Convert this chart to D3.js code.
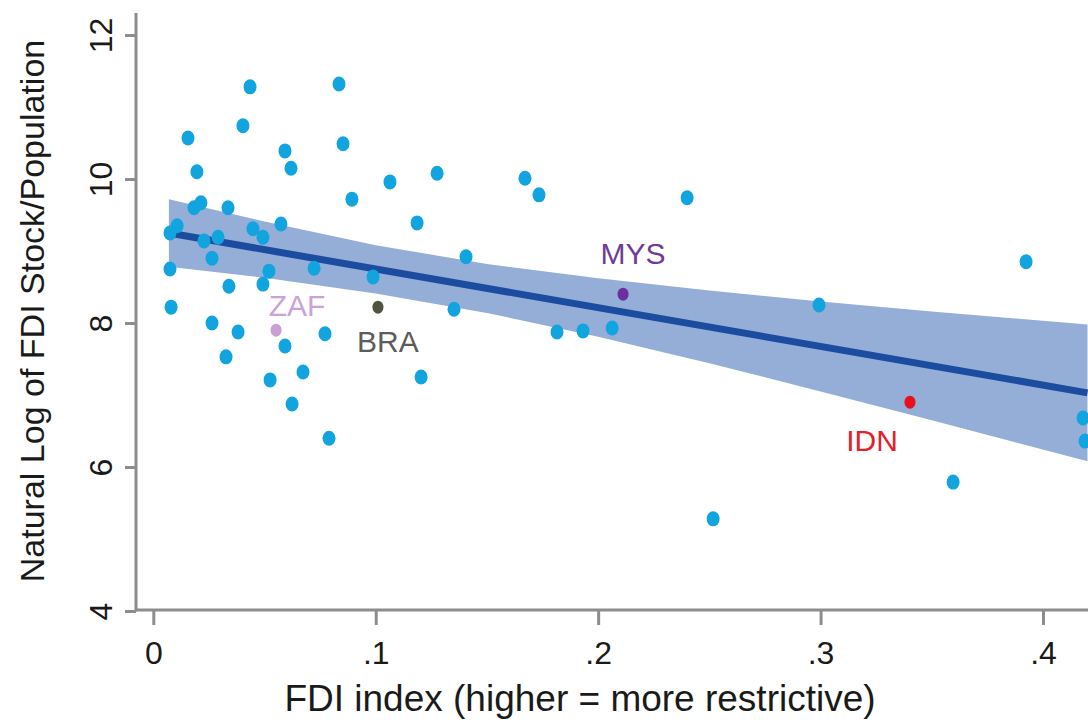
<!DOCTYPE html>
<html>
<head>
<meta charset="utf-8">
<script src="https://cdn.jsdelivr.net/npm/d3@7"></script>
<style>
  body { margin: 0; background: #fff; }
  svg { display: block; font-family: "Liberation Sans", Arial, sans-serif; }
</style>
</head>
<body>
<svg id="chart" width="1088" height="724"></svg>
<script>
// scatter: FDI index vs log FDI stock per head
var fdiIndex = [0.0435, 0.0835, 0.0156, 0.0403, 0.0592, 0.0853, 0.0619, 0.0196, 0.1064, 0.0893,
	0.0183, 0.0214, 0.0336, 0.0075, 0.0107, 0.0228, 0.0291, 0.0448, 0.0493, 0.0574,
	0.0264, 0.0075, 0.0340, 0.0493, 0.0520, 0.0723, 0.0988, 0.0080, 0.0264, 0.0381,
	0.0772, 0.0592, 0.0327, 0.0525, 0.0673, 0.0624, 0.0790, 0.1276, 0.1671, 0.1734,
	0.2400, 0.1186, 0.1406, 0.1352, 0.1815, 0.1932, 0.2063, 0.1204, 0.2517, 0.3924,
	0.2993, 0.4180, 0.4189, 0.3596];
var logFdiStock = [11.28, 11.32, 10.57, 10.74, 10.39, 10.49, 10.15, 10.10, 9.96, 9.72,
	9.60, 9.67, 9.60, 9.25, 9.35, 9.14, 9.19, 9.31, 9.19, 9.375,
	8.90, 8.75, 8.51, 8.54, 8.72, 8.76, 8.64, 8.22, 8.00, 7.875,
	7.85, 7.68, 7.53, 7.21, 7.32, 6.875, 6.40, 10.08, 10.01, 9.78,
	9.74, 9.39, 8.92, 8.19, 7.875, 7.89, 7.93, 7.25, 5.28, 8.85,
	8.25, 6.68, 6.36, 5.79];

// highlighted countries
var hlCodes = ['ZAF', 'BRA', 'MYS', 'IDN'];
var hlIndex = [0.0552, 0.1010, 0.2112, 0.3402];
var hlStock = [7.90, 8.22, 8.40, 6.90];

// fitted line and its confidence band
var fitX = [0.007, 0.42];
var fitY = [9.25, 7.03];
var ciX = [0.007, 0.05, 0.10, 0.15, 0.20, 0.25, 0.30, 0.35, 0.42];
var ciLow = [8.78, 8.63, 8.41, 8.14, 7.81, 7.44, 7.05, 6.65, 6.08];
var ciHigh = [9.72, 9.41, 9.08, 8.82, 8.62, 8.45, 8.30, 8.16, 7.98];

var xTicks = [0, 0.1, 0.2, 0.3, 0.4];
var yTicks = [4, 6, 8, 10, 12];

var svg = d3.select('#chart');
var W = 1088;

var x = d3.scaleLinear().domain([0, 0.4]).range([153.3, 1043]);
var y = d3.scaleLinear().domain([4, 12]).range([611, 35]);

var axisColor = '#8d8d8d';
var axisLeft = 136, axisBottom = 610;

svg.append('clipPath').attr('id', 'plotclip')
	.append('rect').attr('x', axisLeft).attr('y', 0).attr('width', W - axisLeft).attr('height', axisBottom);

var plot = svg.append('g').attr('clip-path', 'url(#plotclip)');

// confidence band
var band = d3.area()
	.x(function(d, i) { return x(ciX[i]); })
	.y0(function(d, i) { return y(ciLow[i]); })
	.y1(function(d, i) { return y(ciHigh[i]); });
plot.append('path').datum(ciX).attr('d', band).attr('fill', '#94aed7');

// fit line
var line = d3.line()
	.x(function(d, i) { return x(fitX[i]); })
	.y(function(d, i) { return y(fitY[i]); });
plot.append('path').datum(fitX).attr('d', line)
	.attr('fill', 'none').attr('stroke', '#1b4c9f').attr('stroke-width', 7);

// country points
plot.selectAll('ellipse.pt').data(fdiIndex).enter().append('ellipse')
	.attr('class', 'pt')
	.attr('cx', function(d) { return x(d); })
	.attr('cy', function(d, i) { return y(logFdiStock[i]); })
	.attr('rx', 6.5).attr('ry', 7.5)
	.attr('fill', '#12a4df');

// highlighted points with labels
var hlDot = ['#c8a0d4', '#4f5540', '#6d2fa0', '#e8101c'];
var hlText = ['#c9a3d8', '#5c5c5c', '#6e3c96', '#e5202a'];
var hlDx = [21, 10, 10, -38];
var hlDy = [-14, 45, -30, 49];

plot.selectAll('ellipse.hl').data(hlCodes).enter().append('ellipse')
	.attr('class', 'hl')
	.attr('cx', function(d, i) { return x(hlIndex[i]); })
	.attr('cy', function(d, i) { return y(hlStock[i]); })
	.attr('rx', 5.5).attr('ry', 6.5)
	.attr('fill', function(d, i) { return hlDot[i]; });

svg.selectAll('text.hl').data(hlCodes).enter().append('text')
	.attr('class', 'hl')
	.attr('x', function(d, i) { return x(hlIndex[i]) + hlDx[i]; })
	.attr('y', function(d, i) { return y(hlStock[i]) + hlDy[i]; })
	.attr('text-anchor', 'middle')
	.attr('font-size', 30)
	.attr('fill', function(d, i) { return hlText[i]; })
	.text(function(d) { return d; });

// axes
var fmtX = function(d) { return d === 0 ? '0' : d3.format('.1f')(d).replace(/^0/, ''); };

var gx = svg.append('g').attr('transform', 'translate(0,' + axisBottom + ')')
	.call(d3.axisBottom(x).tickValues(xTicks).tickFormat(fmtX).tickSizeOuter(0).tickSize(15).tickPadding(16));
var gy = svg.append('g').attr('transform', 'translate(' + axisLeft + ',0)')
	.call(d3.axisLeft(y).tickValues(yTicks).tickSizeOuter(0).tickSize(11).tickPadding(12));

[gx, gy].forEach(function(g) {
	g.select('.domain').remove();
	g.selectAll('.tick line').attr('stroke', axisColor).attr('stroke-width', 3);
	g.selectAll('.tick text').attr('fill', '#1a1a1a').attr('font-size', 32)
		.attr('font-family', '"Liberation Sans", Arial, sans-serif');
});

gy.selectAll('.tick text')
	.attr('x', null).attr('dy', null)
	.attr('text-anchor', 'middle')
	.attr('transform', 'translate(-24,0) rotate(-90)');

svg.append('line').attr('x1', axisLeft).attr('x2', axisLeft).attr('y1', 13).attr('y2', axisBottom + 1.5)
	.attr('stroke', axisColor).attr('stroke-width', 3);
svg.append('line').attr('x1', axisLeft).attr('x2', W).attr('y1', axisBottom).attr('y2', axisBottom)
	.attr('stroke', axisColor).attr('stroke-width', 3);

// titles
svg.append('text')
	.attr('x', 580).attr('y', 711)
	.attr('text-anchor', 'middle').attr('font-size', 37).attr('fill', '#1a1a1a')
	.text('FDI index (higher = more restrictive)');

svg.append('text')
	.attr('transform', 'translate(44,311) rotate(-90)')
	.attr('text-anchor', 'middle').attr('font-size', 34).attr('fill', '#1a1a1a')
	.text('Natural Log of FDI Stock/Population');
</script>
</body>
</html>
